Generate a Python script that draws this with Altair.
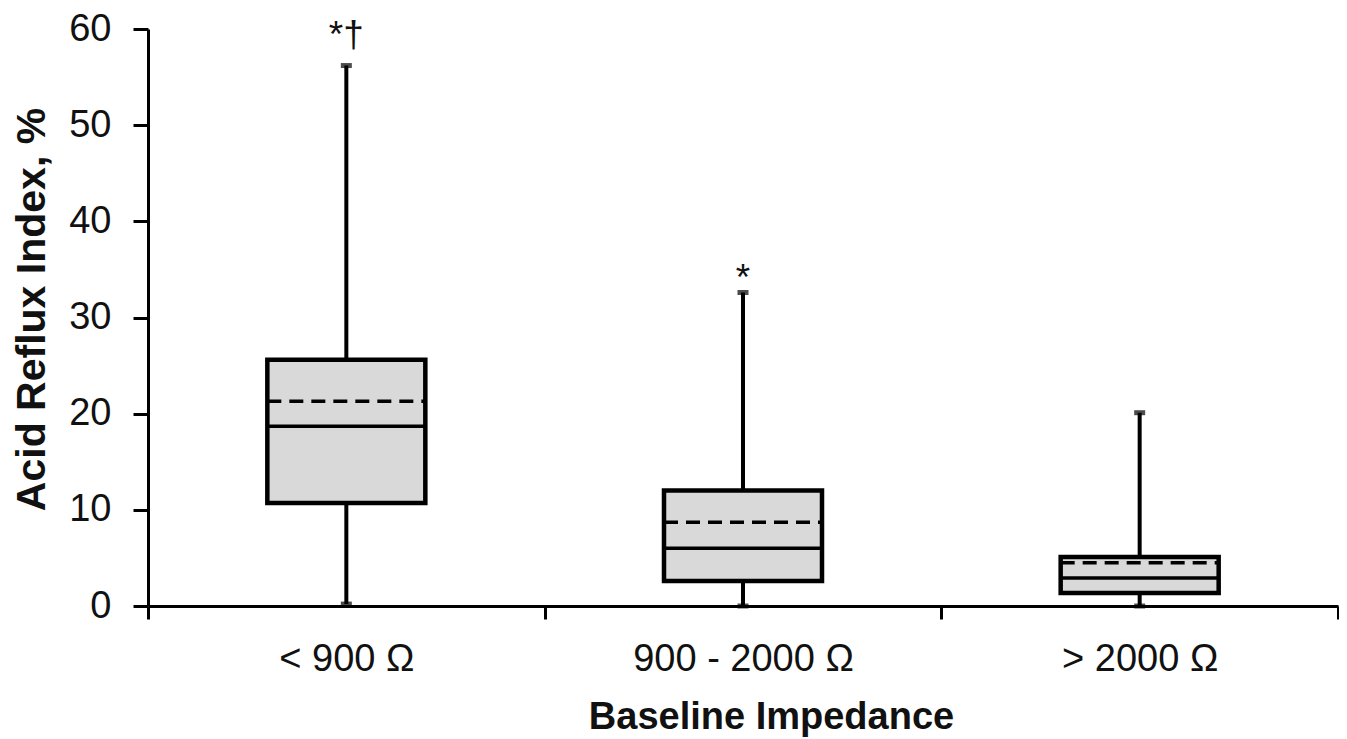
import altair as alt
import pandas as pd

categories = ["< 900 Ω", "900 - 2000 Ω", "> 2000 Ω"]
whisker_low = [0.2, 0.0, 0.0]
q1 = [10.7, 2.6, 1.35]
median = [18.7, 6.0, 2.9]
mean = [21.3, 8.7, 4.5]
q3 = [25.6, 12.0, 5.1]
whisker_high = [56.2, 32.6, 20.1]
significance = ["*†", "*", ""]
y_ticks = [0, 10, 20, 30, 40, 50, 60]

df = pd.DataFrame({
    "cat": categories,
    "low": whisker_low,
    "q1": q1,
    "median": median,
    "mean": mean,
    "q3": q3,
    "high": whisker_high,
    "sig": significance,
})

FONT = "Liberation Sans"

x_axis = alt.Axis(
    title="Baseline Impedance",
    tickBand="extent",
    labelAngle=0, labelLimit=0,
    labelFont=FONT, labelFontSize=38, labelColor="#111",
    titleFont=FONT, titleFontSize=38, titleFontWeight="bold", titleColor="#111",
    titleX=623, titleAlign="center",
    domainColor="black", domainWidth=3,
    tickColor="black", tickWidth=3, tickSize=13,
    labelPadding=21, titlePadding=20,
    grid=False,
)
y_axis = alt.Axis(
    title="Acid Reflux Index, %",
    values=y_ticks,
    labelFont=FONT, labelFontSize=38, labelColor="#111",
    titleFont=FONT, titleFontSize=41, titleFontWeight="bold", titleColor="#111",
    titleY=280, titleAlign="center",
    domainColor="black", domainWidth=3,
    tickColor="black", tickWidth=3, tickSize=15,
    labelPadding=22, titlePadding=15,
    grid=False,
)

x_scale = alt.Scale(type="band", paddingInner=0, paddingOuter=0)
y_scale = alt.Scale(domain=[0, 60], nice=False, zero=True)

def X():
    return alt.X("cat:N", sort=categories, scale=x_scale, axis=x_axis)

def Y(field):
    return alt.Y(f"{field}:Q", scale=y_scale, axis=y_axis)

base = alt.Chart(df)

whisk_low = base.mark_rule(color="black", strokeWidth=4).encode(
    x=X(), y=Y("low"), y2="q1")
whisk_high = base.mark_rule(color="black", strokeWidth=4).encode(
    x=X(), y=Y("q3"), y2="high")
box = base.mark_bar(size=158, color="#d9d9d9", stroke="black", strokeWidth=4.5).encode(
    x=X(), y=Y("q1"), y2="q3")
med = base.mark_rule(color="black", strokeWidth=3.5, xOffset=-79, x2Offset=79).encode(
    x=alt.X("cat:N", sort=categories, scale=x_scale, axis=x_axis, bandPosition=0.5),
    x2=alt.X2("cat", bandPosition=0.5),
    y=Y("median"))
avg = base.mark_rule(color="black", strokeWidth=3.5, strokeDash=[14, 8], strokeCap="butt",
                     xOffset=-79, x2Offset=79).encode(
    x=alt.X("cat:N", sort=categories, scale=x_scale, axis=x_axis, bandPosition=0.5),
    x2=alt.X2("cat", bandPosition=0.5),
    y=Y("mean"))
cap_top = base.mark_tick(color="black", size=11, thickness=5).encode(
    x=X(), y=Y("high"))
cap_low = base.mark_tick(color="black", size=11, thickness=5).encode(
    x=X(), y=Y("low"))
sig1 = base.transform_filter(alt.datum.sig == "*†").mark_text(
    font=FONT, fontSize=37, baseline="alphabetic", dy=-19, color="#111").encode(
    x=X(), y=Y("high"), text="sig:N")
sig2 = base.transform_filter(alt.datum.sig == "*").mark_text(
    font=FONT, fontSize=37, baseline="alphabetic", dy=-2, color="#111").encode(
    x=X(), y=Y("high"), text="sig:N")

chart = alt.layer(
    whisk_low, whisk_high, box, med, avg, cap_top, cap_low, sig1, sig2
).properties(
    width=1190, height=577,
    autosize=alt.AutoSizeParams(type="none"),
    padding={"left": 140, "top": 21, "right": 1, "bottom": 131},
).configure(background="white").configure_view(stroke="transparent", strokeWidth=0)

chart.save("out.html", embed_options={"renderer": "svg", "actions": False})
